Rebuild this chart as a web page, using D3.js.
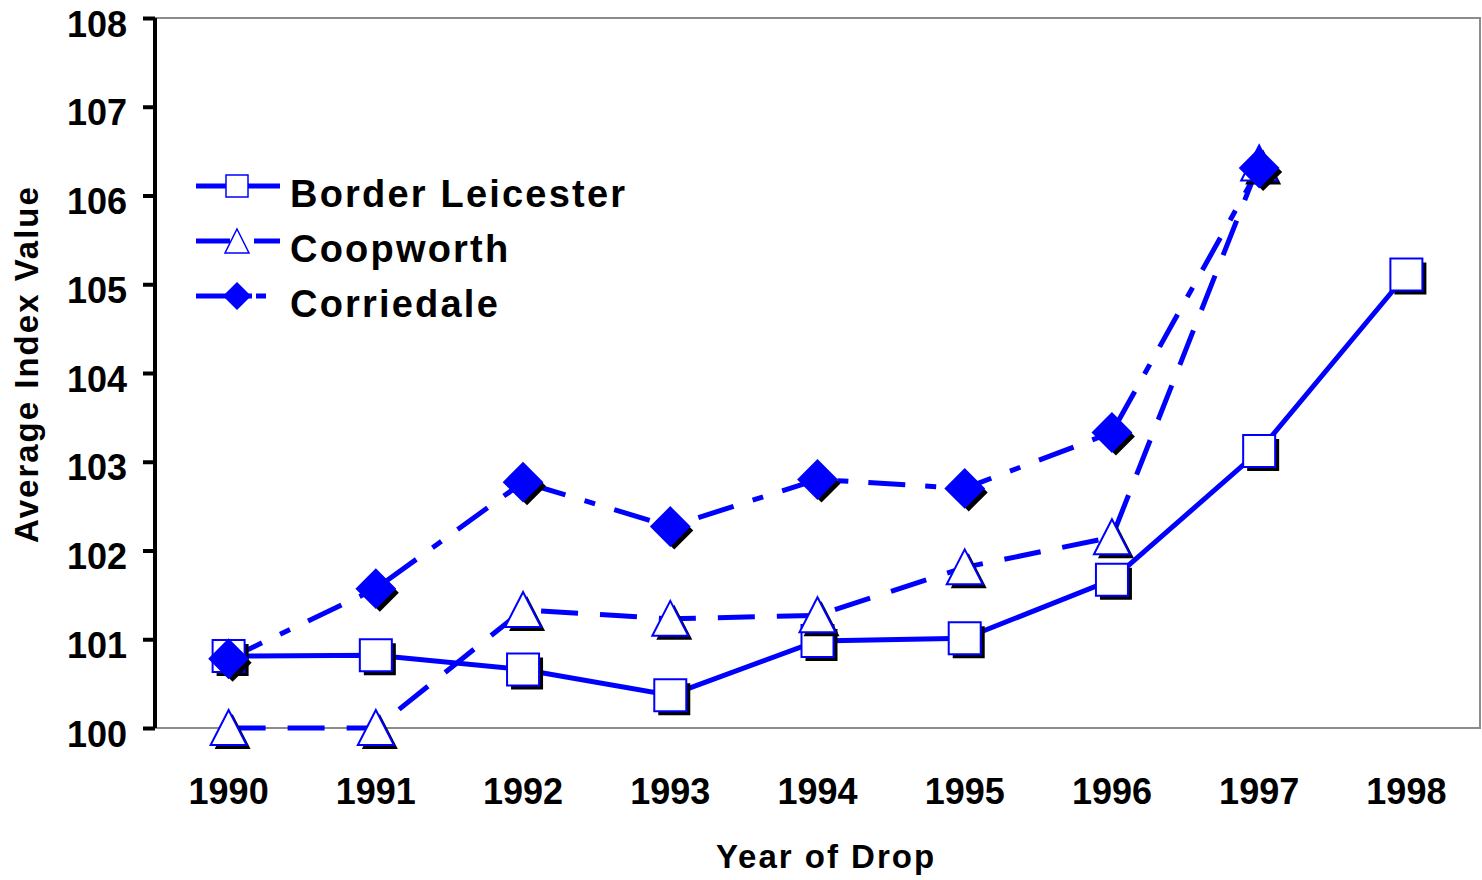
<!DOCTYPE html>
<html>
<head>
<meta charset="utf-8">
<script src="https://cdn.jsdelivr.net/npm/d3@7"></script>
<style>
  body { margin: 0; background: #fff; }
  text { font-family: "Liberation Sans", Arial, sans-serif; font-weight: bold; }
</style>
</head>
<body>
<script>
// data
const years = ['1990', '1991', '1992', '1993', '1994', '1995', '1996', '1997', '1998'];
const borderLeicester = [100.81, 100.82, 100.66, 100.37, 100.98, 101.01, 101.67, 103.12, 105.11];
const coopworth = [100.0, 100.0, 101.33, 101.23, 101.27, 101.81, 102.15, 106.36, null];
const corriedale = [100.78, 101.57, 102.77, 102.27, 102.80, 102.70, 103.33, 106.31, null];
const yTicks = [100, 101, 102, 103, 104, 105, 106, 107, 108];

const series = [
  { name: 'Border Leicester', values: borderLeicester, marker: 'square', dash: null },
  { name: 'Coopworth', values: coopworth, marker: 'triangle', dash: '37,22' },
  { name: 'Corriedale', values: corriedale, marker: 'diamond', dash: '37,20,11,20' },
];

const W = 1482, H = 880;
const margin = { top: 18, right: 2, bottom: 152, left: 155 };
const width = W - margin.left - margin.right,
  height = H - margin.top - margin.bottom;

const blue = '#0000ff';

const svg = d3.select('body').append('svg')
  .attr('width', W)
  .attr('height', H);

const g = svg.append('g')
  .attr('transform', `translate(${margin.left},${margin.top})`);

const x = d3.scaleBand()
  .domain(years)
  .range([0, width]);
const y = d3.scaleLinear()
  .domain([100, 108])
  .range([height, 0]);

// plot frame (grey top/right/bottom)
g.append('rect')
  .attr('x', 0).attr('y', 0)
  .attr('width', width).attr('height', height)
  .attr('fill', 'none')
  .attr('stroke', '#8c8c8c')
  .attr('stroke-width', 2);

// y axis
const yAxis = g.append('g')
  .call(d3.axisLeft(y).tickValues(yTicks).tickSize(12).tickPadding(16).tickFormat(d3.format('d')));
yAxis.select('.domain')
  .attr('d', `M0,0V${height}`)
  .attr('stroke', '#000')
  .attr('stroke-width', 4);
yAxis.selectAll('.tick line').attr('stroke', '#000').attr('stroke-width', 4);
yAxis.selectAll('.tick text')
  .style('font-size', '36px')
  .attr('fill', '#000')
  .attr('dy', '0.5em');

// x axis (labels only)
const xAxis = g.append('g')
  .attr('transform', `translate(0,${height})`)
  .call(d3.axisBottom(x).tickSize(0).tickPadding(50));
xAxis.select('.domain').remove();
xAxis.selectAll('.tick text')
  .style('font-size', '36px')
  .attr('fill', '#000');

// axis titles
svg.append('text')
  .attr('x', 826)
  .attr('y', 868)
  .attr('text-anchor', 'middle')
  .style('font-size', '33px')
  .style('letter-spacing', '2px')
  .text('Year of Drop');

svg.append('text')
  .attr('transform', 'translate(38,364) rotate(-90)')
  .attr('text-anchor', 'middle')
  .style('font-size', '33px')
  .style('letter-spacing', '2px')
  .text('Average Index Value');

// marker shapes
function markerPath(type) {
  if (type === 'square') return 'M-16,-16H16V16H-16Z';
  if (type === 'triangle') return 'M0,-18L18,17H-18Z';
  return 'M0,-19L19,0L0,19L-19,0Z';
}

function drawMarker(sel, type, cx, cy) {
  const m = sel.append('g').attr('transform', `translate(${cx},${cy})`);
  m.append('path')
    .attr('d', markerPath(type))
    .attr('transform', 'translate(4,4)')
    .attr('fill', '#000');
  m.append('path')
    .attr('d', markerPath(type))
    .attr('fill', type === 'diamond' ? blue : '#fff')
    .attr('stroke', blue)
    .attr('stroke-width', 2);
}

const line = d3.line()
  .defined(d => d.v != null)
  .x(d => x(d.year) + x.bandwidth() / 2)
  .y(d => y(d.v));

series.forEach((s) => {
  const pts = years.map((yr, i) => ({ year: yr, v: s.values[i] }));
  g.append('path')
    .datum(pts)
    .attr('d', line)
    .attr('fill', 'none')
    .attr('stroke', blue)
    .attr('stroke-width', 5)
    .attr('stroke-dasharray', s.dash);
});

series.forEach((s) => {
  years.forEach((yr, i) => {
    if (s.values[i] == null) return;
    drawMarker(g, s.marker, x(yr) + x.bandwidth() / 2, y(s.values[i]));
  });
});

// legend
const legend = svg.append('g');
const legendDash = [null, '34,24,30', '56,4,10,100'];
series.forEach((s, i) => {
  const ly = 186 + i * 55;
  legend.append('line')
    .attr('x1', 196).attr('x2', 280)
    .attr('y1', ly).attr('y2', ly)
    .attr('stroke', blue)
    .attr('stroke-width', 5)
    .attr('stroke-dasharray', legendDash[i]);
  const m = legend.append('g').attr('transform', `translate(237,${ly})`);
  m.append('path')
    .attr('d', s.marker === 'square' ? 'M-11,-11H11V11H-11Z'
      : s.marker === 'triangle' ? 'M0,-12L12,12H-12Z' : 'M0,-13L13,0L0,13L-13,0Z')
    .attr('fill', s.marker === 'diamond' ? blue : '#fff')
    .attr('stroke', blue)
    .attr('stroke-width', 1.5);
  legend.append('text')
    .attr('x', 290)
    .attr('y', ly + 21)
    .style('font-size', '38px')
    .style('letter-spacing', '2.2px')
    .text(s.name);
});
</script>
</body>
</html>
